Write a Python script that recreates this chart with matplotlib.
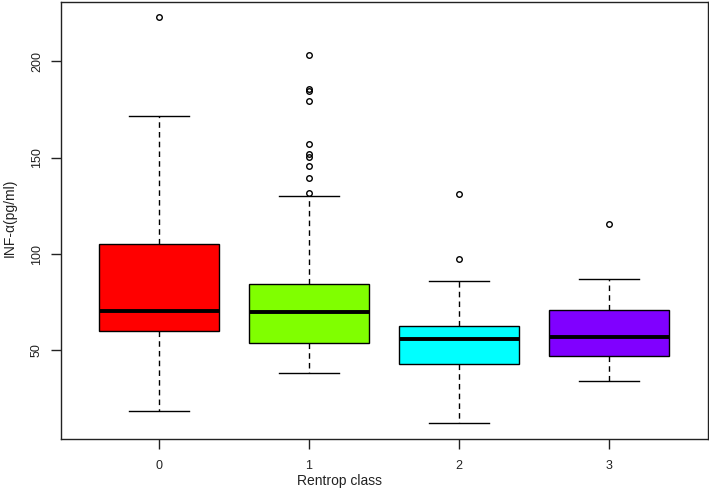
import matplotlib
matplotlib.use('Agg')
import matplotlib.pyplot as plt

plt.rcParams['font.family'] = ['Liberation Sans', 'DejaVu Sans']

# Данные
classes = ['0', '1', '2', '3']
colors = ['#FF0000', '#80FF00', '#00FFFF', '#8000FF']
whislo = [18.7, 38.2, 12.3, 34.1]
q1 = [60.2, 53.8, 42.7, 46.9]
med = [70.2, 69.7, 55.9, 57.1]
q3 = [105.4, 84.6, 62.6, 70.8]
whishi = [171.5, 130.0, 85.8, 86.9]
fliers = [
    [222.8],
    [203.5, 185.8, 184.8, 179.4, 157.1, 151.8, 150.2, 145.5, 139.7, 131.9],
    [131.0, 97.4],
    [115.6],
]

stats = []
for i in range(len(classes)):
    stats.append({'label': classes[i], 'whislo': whislo[i], 'q1': q1[i],
                  'med': med[i], 'q3': q3[i], 'whishi': whishi[i],
                  'fliers': fliers[i]})

fig = plt.figure(figsize=(7.09, 4.90), dpi=100)
ax = fig.add_axes([61 / 709, 1 - 439 / 490, (707.5 - 61) / 709, (439 - 2) / 490])

bp = ax.bxp(stats, positions=[1, 2, 3, 4], widths=0.8, patch_artist=True,
            boxprops=dict(edgecolor='black', linewidth=1.0),
            medianprops=dict(color='black', linewidth=2.8, solid_capstyle='butt'),
            whiskerprops=dict(color='black', linewidth=1.0, linestyle=(0, (4, 3))),
            capprops=dict(color='black', linewidth=1.0),
            flierprops=dict(marker='o', markersize=4, markerfacecolor='none',
                            markeredgecolor='black', markeredgewidth=1.0),
            capwidths=0.4)
for patch, c in zip(bp['boxes'], colors):
    patch.set_facecolor(c)

ax.set_xlim(0.347, 4.66)
ax.set_ylim(4.0, 230.8)
ax.set_yticks([50, 100, 150, 200])
ax.set_xticks([1, 2, 3, 4])
ax.set_xticklabels(classes)
ax.tick_params(axis='both', length=7, width=1, labelsize=9, colors='#222222')
ax.tick_params(axis='x', pad=8)
ax.tick_params(axis='y', pad=6)
for lab in ax.get_yticklabels():
    lab.set_rotation(90)
    lab.set_va('center')
for s in ax.spines.values():
    s.set_linewidth(1.0)
    s.set_color('#222222')

ax.set_xlabel('Rentrop class', fontsize=10, color='#222222', va='center')
ax.xaxis.set_label_coords(0.431, -0.097)
ax.set_ylabel('INF-α(pg/ml)', fontsize=10, color='#222222', va='center')
ax.yaxis.set_label_coords(-0.080, 0.507)

fig.savefig('out.png', dpi=100)
